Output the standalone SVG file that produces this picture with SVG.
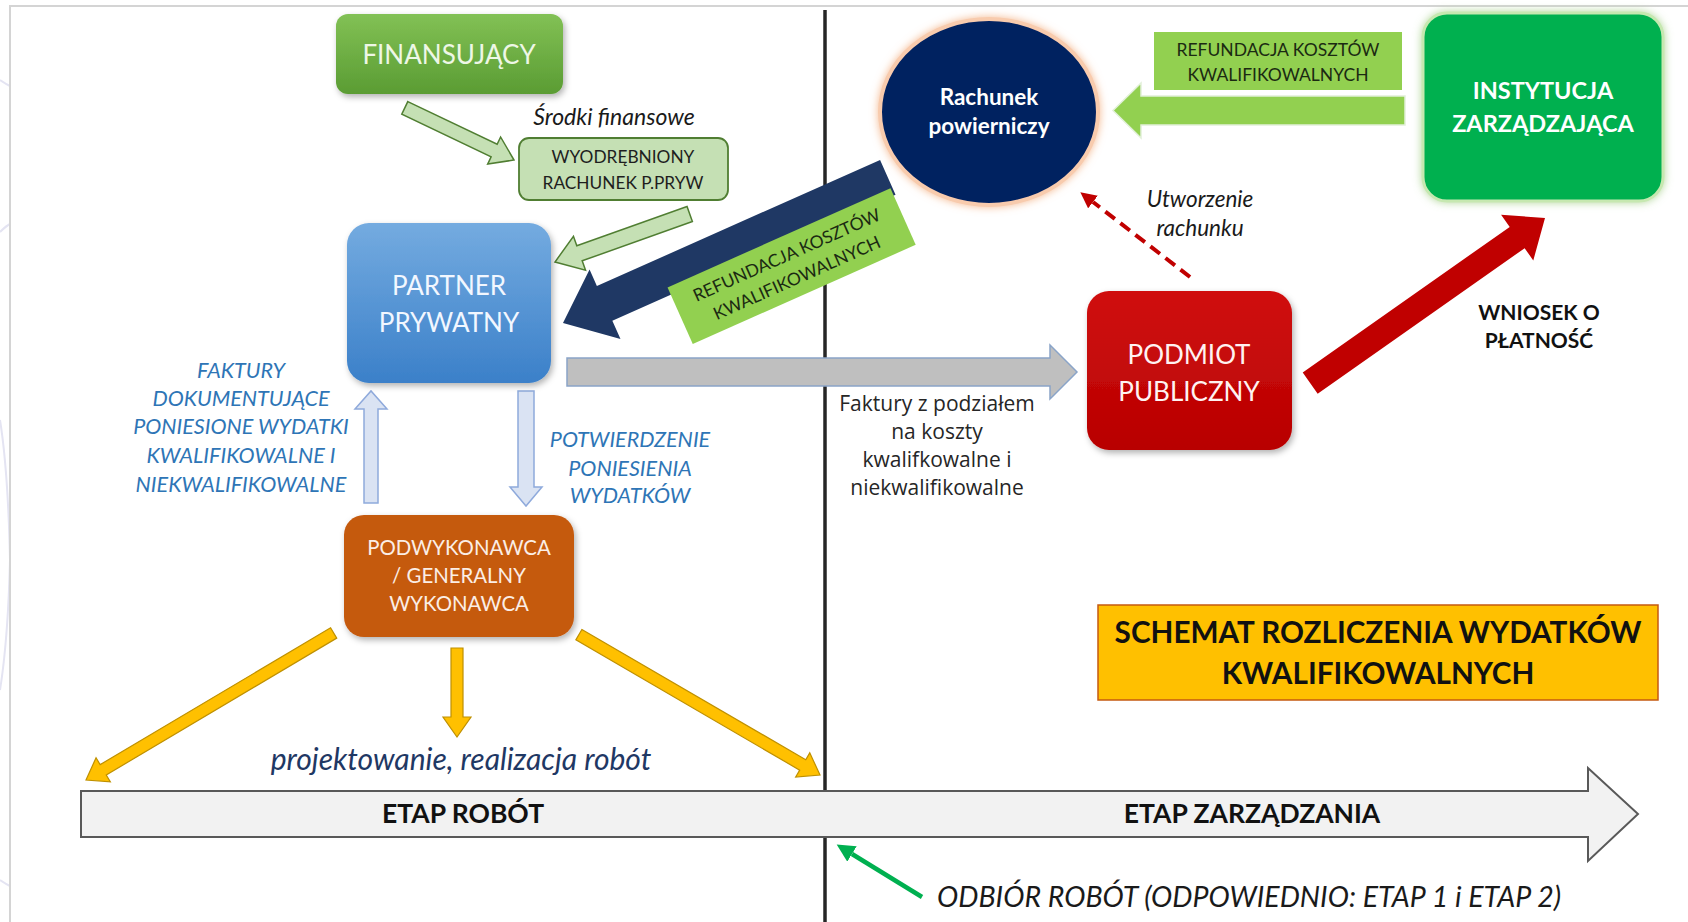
<svg xmlns="http://www.w3.org/2000/svg" width="1688" height="922" viewBox="0 0 1688 922">
<style>
.t{font-family:Lato,"Liberation Sans",sans-serif;text-anchor:middle}
.w{fill:#ffffff}
.b{font-weight:bold}
.i{font-style:italic}
.blue{fill:#2e75b6;font-style:italic}
.lg{fill:#c5e0b4;stroke:#507e32;stroke-width:1.5}
.ya{fill:#ffc000;stroke:#bf9000;stroke-width:1.2}
.ba{fill:#dae3f3;stroke:#8faadc;stroke-width:1.5}
</style>
<defs>
<filter id="sh" x="-20%" y="-20%" width="140%" height="150%">
<feDropShadow dx="2" dy="3" stdDeviation="3" flood-color="#000" flood-opacity="0.3"/>
</filter>
<filter id="glowO" x="-20%" y="-20%" width="140%" height="140%">
<feDropShadow dx="0" dy="0" stdDeviation="4" flood-color="#f4b183" flood-opacity="0.9"/>
</filter>
<filter id="glowG" x="-20%" y="-20%" width="140%" height="140%">
<feDropShadow dx="0" dy="0" stdDeviation="4" flood-color="#a9d18e" flood-opacity="0.9"/>
</filter>
<linearGradient id="gFin" x1="0" y1="0" x2="0" y2="1"><stop offset="0" stop-color="#82c155"/><stop offset="1" stop-color="#5a9c33"/></linearGradient>
<linearGradient id="gPart" x1="0" y1="0" x2="0" y2="1"><stop offset="0" stop-color="#74abe0"/><stop offset="1" stop-color="#3b80c9"/></linearGradient>
<linearGradient id="gPod" x1="0" y1="0" x2="0" y2="1"><stop offset="0" stop-color="#d01010"/><stop offset="1" stop-color="#b80000"/></linearGradient>
<marker id="mRed" markerUnits="userSpaceOnUse" markerWidth="18" markerHeight="16" refX="0" refY="8" orient="auto"><path d="M0,0 L16,8 L0,16 z" fill="#c00000"/></marker>
<marker id="mGreen" markerUnits="userSpaceOnUse" markerWidth="20" markerHeight="18" refX="0" refY="9" orient="auto"><path d="M0,0 L18,9 L0,18 z" fill="#00b050"/></marker>
</defs>

<rect x="0" y="0" width="1688" height="922" fill="#ffffff"/>
<g id="backdrop" fill="none" stroke="#e4e4f2" stroke-width="2">
<path d="M0,80 Q6,84 10,86"/>
<path d="M0,232 Q6,226 10,224"/>
<path d="M0,420 Q8,470 10,560 Q8,640 0,690"/>
<path d="M0,880 Q6,884 10,886"/>
</g>
<rect id="frame" x="10" y="6" width="1700" height="930" fill="#ffffff" stroke="#d4d4d4" stroke-width="2"/>

<g id="divider">
<line x1="825" y1="10" x2="825" y2="922" stroke="#262626" stroke-width="3.5"/>
</g>

<g id="connectors">
<polygon class="lg" transform="translate(514,160) rotate(25.5)" points="-121,-7 -22,-7 -22,-15 0,0 -22,15 -22,7 -121,7"/>
<polygon class="lg" transform="translate(555,262) rotate(160.4)" points="-143,-8 -26,-8 -26,-18 0,0 -26,18 -26,8 -143,8"/>
<g id="navy-arrow" transform="translate(563,323) rotate(-24)">
<polygon fill="#1f3864" points="0,0 46,-38 46,-20 356,-20 356,18 46,18 46,38"/>
<rect x="110" y="10" width="244" height="62" fill="#92d050"/>
<text class="t" x="232" y="35" font-size="17.5" fill="#1b2a12">REFUNDACJA KOSZTÓW</text>
<text class="t" x="232" y="60" font-size="17.5" fill="#1b2a12">KWALIFIKOWALNYCH</text>
</g>
<polygon fill="#92d050" stroke="#e2f0d9" stroke-width="1.5" points="1405,96 1141,96 1141,83 1113,110.5 1141,138 1141,125 1405,125"/>
<polygon fill="#bfbfbf" stroke="#8aa4c8" stroke-width="1.5" points="567,358 1050,358 1050,345 1077,372 1050,399 1050,386 567,386"/>
<polygon class="ba" points="364,503 364,409 355,409 371,391 387,409 378,409 378,503"/>
<polygon class="ba" points="518,391 534,391 534,487 542,487 526,506 510,487 518,487"/>
<polygon class="ya" transform="translate(86,780) rotate(149.3)" points="-288,-6 -20,-6 -20,-14 0,0 -20,14 -20,6 -288,6"/>
<polygon class="ya" transform="translate(457,737) rotate(90)" points="-89,-6 -20,-6 -20,-14 0,0 -20,14 -20,6 -89,6"/>
<polygon class="ya" transform="translate(820,775) rotate(30.2)" points="-279,-6 -20,-6 -20,-14 0,0 -20,14 -20,6 -279,6"/>
<polygon fill="#c00000" transform="translate(1545,218) rotate(-35.1)" points="-287,-13 -34,-13 -34,-28 0,0 -34,28 -34,13 -287,13"/>
<line x1="1190" y1="277" x2="1093" y2="202" stroke="#c00000" stroke-width="4" stroke-dasharray="12,7" marker-end="url(#mRed)"/>
<line x1="922" y1="897" x2="852" y2="854" stroke="#00b050" stroke-width="4.5" marker-end="url(#mGreen)"/>
<polygon fill="#f2f2f2" stroke="#595959" stroke-width="2" points="81,791 1588,791 1588,768 1638,814 1588,861 1588,837 81,837"/>
</g>

<g id="finansujacy">
<rect x="336" y="14" width="227" height="80" rx="12" fill="url(#gFin)" filter="url(#sh)"/>
<text class="t" x="449" y="64" font-size="26" fill="#eef7e6">FINANSUJĄCY</text>
</g>
<g id="srodki">
<text class="t i" x="614" y="125" font-size="23" fill="#1a1a1a">Środki finansowe</text>
</g>
<g id="wyodrebniony">
<rect x="519" y="138" width="209" height="62" rx="10" fill="#c5e0b4" stroke="#507e32" stroke-width="1.8"/>
<text class="t" x="623" y="163" font-size="17.3" fill="#1e1e1e">WYODRĘBNIONY</text>
<text class="t" x="623" y="189" font-size="17.3" fill="#1e1e1e">RACHUNEK P.PRYW</text>
</g>
<g id="partner">
<rect x="347" y="223" width="204" height="160" rx="22" fill="url(#gPart)" filter="url(#sh)"/>
<text class="t" x="449" y="295" font-size="26" fill="#f2f7ff">PARTNER</text>
<text class="t" x="449" y="332" font-size="26" fill="#f2f7ff">PRYWATNY</text>
</g>
<g id="rachunek">
<ellipse cx="989" cy="112" rx="109" ry="93" fill="#002060" stroke="#f8cbad" stroke-width="4" filter="url(#glowO)"/>
<text class="t w b" x="989" y="105" font-size="22.5">Rachunek</text>
<text class="t w b" x="989" y="134" font-size="22.5">powierniczy</text>
</g>
<g id="refundacja-top">
<rect x="1154" y="32" width="248" height="58" fill="#92d050"/>
<text class="t" x="1278" y="56" font-size="17.5" fill="#1b2a12">REFUNDACJA KOSZTÓW</text>
<text class="t" x="1278" y="81" font-size="17.5" fill="#1b2a12">KWALIFIKOWALNYCH</text>
</g>
<g id="instytucja">
<rect x="1423" y="13" width="240" height="188" rx="24" fill="#00b050" stroke="#c6e8b0" stroke-width="3" filter="url(#glowG)"/>
<text class="t w b" x="1543" y="99" font-size="23.5">INSTYTUCJA</text>
<text class="t w b" x="1543" y="132" font-size="23.5">ZARZĄDZAJĄCA</text>
</g>
<g id="utworzenie">
<text class="t i" x="1200" y="207" font-size="22.5" fill="#1a1a1a">Utworzenie</text>
<text class="t i" x="1200" y="236" font-size="22.5" fill="#1a1a1a">rachunku</text>
</g>
<g id="podmiot">
<rect x="1087" y="291" width="205" height="159" rx="22" fill="url(#gPod)" filter="url(#sh)"/>
<text class="t" x="1189" y="364" font-size="26" fill="#fff2f2">PODMIOT</text>
<text class="t" x="1189" y="401" font-size="26" fill="#fff2f2">PUBLICZNY</text>
</g>
<g id="wniosek">
<text class="t b" x="1539" y="320" font-size="21" fill="#111">WNIOSEK O</text>
<text class="t b" x="1539" y="348" font-size="21" fill="#111">PŁATNOŚĆ</text>
</g>
<g id="faktury-podzial" font-family="'Open Sans','Liberation Sans',sans-serif" font-size="21" fill="#262626" text-anchor="middle">
<text x="937" y="411">Faktury z podziałem</text>
<text x="937" y="439">na koszty</text>
<text x="937" y="467">kwalifkowalne i</text>
<text x="937" y="495">niekwalifikowalne</text>
</g>
<g id="faktury-dok">
<text class="t blue" x="241" y="378" font-size="21.5">FAKTURY</text>
<text class="t blue" x="241" y="406" font-size="21.5">DOKUMENTUJĄCE</text>
<text class="t blue" x="241" y="434" font-size="21.5">PONIESIONE WYDATKI</text>
<text class="t blue" x="241" y="463" font-size="21.5">KWALIFIKOWALNE I</text>
<text class="t blue" x="241" y="492" font-size="21.5">NIEKWALIFIKOWALNE</text>
</g>
<g id="potwierdzenie">
<text class="t blue" x="630" y="447" font-size="21.5">POTWIERDZENIE</text>
<text class="t blue" x="630" y="476" font-size="21.5">PONIESIENIA</text>
<text class="t blue" x="630" y="503" font-size="21.5">WYDATKÓW</text>
</g>
<g id="podwykonawca">
<rect x="344" y="515" width="230" height="122" rx="20" fill="#c55a11" filter="url(#sh)"/>
<text class="t" x="459" y="555" font-size="20.4" fill="#fbeee6">PODWYKONAWCA</text>
<text class="t" x="459" y="583" font-size="20.4" fill="#fbeee6">/ GENERALNY</text>
<text class="t" x="459" y="611" font-size="20.4" fill="#fbeee6">WYKONAWCA</text>
</g>
<g id="projektowanie">
<text class="t i" x="461" y="770" font-size="30" fill="#1f3864">projektowanie, realizacja robót</text>
</g>
<g id="etap-labels">
<text class="t b" x="463" y="823" font-size="26.5" fill="#111">ETAP ROBÓT</text>
<text class="t b" x="1252" y="823" font-size="26.5" fill="#111">ETAP ZARZĄDZANIA</text>
</g>
<g id="schemat">
<rect x="1098" y="605" width="560" height="95" fill="#ffc000" stroke="#c55a11" stroke-width="1.5"/>
<text class="t b" x="1378" y="643" font-size="29.7" fill="#111">SCHEMAT ROZLICZENIA WYDATKÓW</text>
<text class="t b" x="1378" y="684" font-size="29.7" fill="#111">KWALIFIKOWALNYCH</text>
</g>
<g id="odbior">
<text x="937" y="907" font-family="Lato,'Liberation Sans',sans-serif" font-style="italic" font-size="28.5" fill="#1a1a1a">ODBIÓR ROBÓT (ODPOWIEDNIO: ETAP 1 i ETAP 2)</text>
</g>
</svg>
